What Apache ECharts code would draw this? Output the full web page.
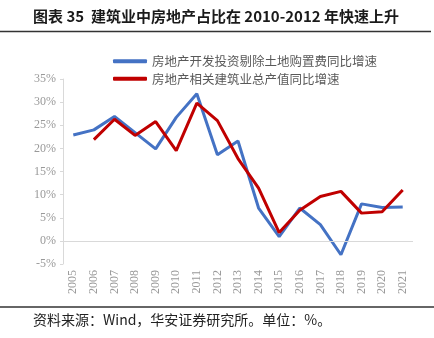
<!DOCTYPE html>
<html>
<head>
<meta charset="utf-8">
<script src="https://cdn.jsdelivr.net/npm/echarts@6/dist/echarts.min.js"></script>
<style>
html,body{margin:0;padding:0;background:#fff;}
#chart{width:434px;height:338px;}
</style>
</head>
<body>
<div id="chart"></div>
<script>
// Years on the category axis
var years = ['2005','2006','2007','2008','2009','2010','2011','2012','2013','2014','2015','2016','2017','2018','2019','2020','2021'];
// 房地产开发投资剔除土地购置费同比增速 (%)
var investExLand = [22.9, 24.0, 26.9, 23.4, 19.9, 26.7, 31.8, 18.6, 21.6, 7.1, 0.9, 7.1, 3.5, -3.0, 8.0, 7.2, 7.3];
// 房地产相关建筑业总产值同比增速 (%)
var constructionOutput = [null, 21.9, 26.3, 22.8, 25.8, 19.5, 29.8, 26.0, 17.8, 11.4, 1.8, 6.6, 9.6, 10.7, 6.0, 6.3, 11.0];
var seriesNames = ['房地产开发投资剔除土地购置费同比增速', '房地产相关建筑业总产值同比增速'];
var yTicks = {min: -5, max: 35, step: 5};

var chart = echarts.init(document.getElementById('chart'), null, {renderer: 'canvas'});
var serif = '"Liberation Serif","Times New Roman",serif';
var cjk = '"Noto Sans CJK SC",sans-serif';

chart.setOption({
  animation: false,
  backgroundColor: '#fff',
  graphic: [
    {type: 'text', left: 33, top: 9, style: {text: '图表 35  建筑业中房地产占比在 2010-2012 年快速上升', font: 'bold 15px ' + cjk, fill: '#1a1a1a'}},
    {type: 'line', shape: {x1: 0, y1: 31.5, x2: 431, y2: 31.5}, style: {stroke: '#333', lineWidth: 1.5}},
    {type: 'line', shape: {x1: 0, y1: 307, x2: 434, y2: 307}, style: {stroke: '#333', lineWidth: 1.5}},
    {type: 'text', left: 33, top: 313, style: {text: '资料来源：Wind，华安证券研究所。单位：%。', font: '14px ' + cjk, fill: '#222'}}
  ],
  legend: {
    orient: 'vertical',
    left: 108,
    top: 50,
    itemWidth: 34,
    itemHeight: 4,
    itemGap: 5,
    icon: 'roundRect',
    textStyle: {fontFamily: cjk, fontSize: 12.5, color: '#595959'},
    data: seriesNames
  },
  grid: {left: 63, right: 21, top: 79, bottom: 74},
  xAxis: {
    type: 'category',
    data: years,
    boundaryGap: true,
    axisLine: {show: false},
    axisTick: {show: false},
    axisLabel: {rotate: 90, margin: 6, fontFamily: serif, fontSize: 12, color: '#999', interval: 0}
  },
  yAxis: {
    type: 'value',
    min: yTicks.min,
    max: yTicks.max,
    interval: yTicks.step,
    axisLine: {show: true, lineStyle: {color: '#d9d9d9', width: 1}},
    axisTick: {show: true, length: 3, lineStyle: {color: '#d9d9d9'}},
    splitLine: {show: false},
    axisLabel: {fontFamily: serif, fontSize: 12, color: '#999', margin: 7,
      formatter: function (v) { return v + '%'; }}
  },
  series: [
    {
      name: seriesNames[0], type: 'line', data: investExLand,
      symbol: 'none', lineStyle: {color: '#4472C4', width: 3}, itemStyle: {color: '#4472C4'},
      markLine: {silent: true, symbol: 'none', label: {show: false},
        lineStyle: {color: '#d9d9d9', width: 1, type: 'solid'}, data: [{yAxis: 0}]}
    },
    {
      name: seriesNames[1], type: 'line', data: constructionOutput,
      symbol: 'none', lineStyle: {color: '#C00000', width: 3}, itemStyle: {color: '#C00000'}
    }
  ]
});
</script>
</body>
</html>
